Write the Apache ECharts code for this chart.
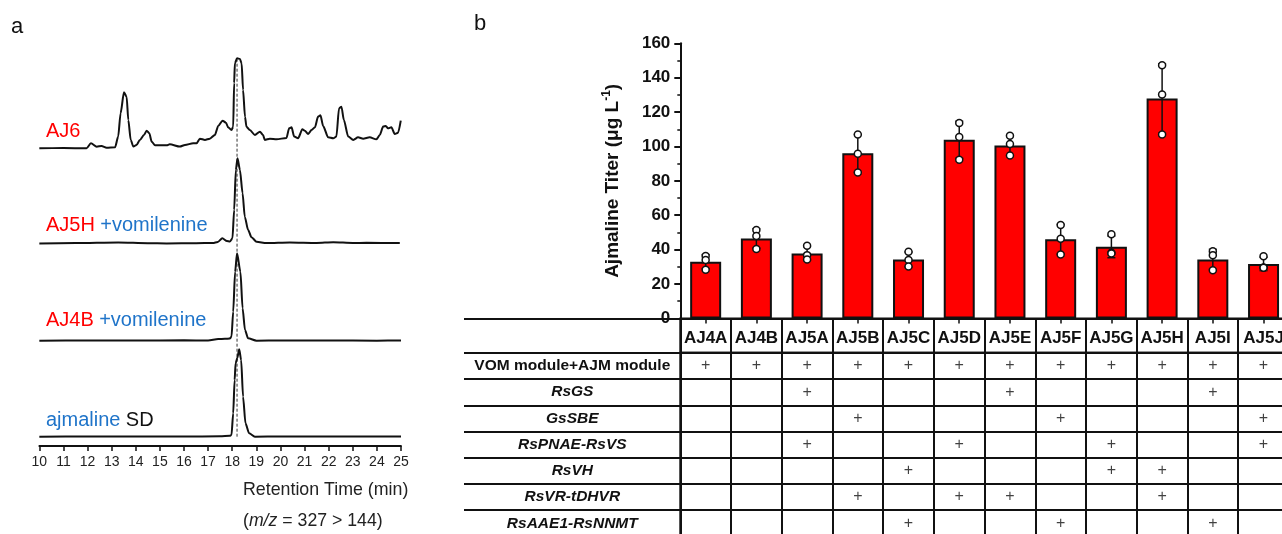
<!DOCTYPE html>
<html>
<head>
<meta charset="utf-8">
<script src="https://cdn.jsdelivr.net/npm/echarts@6/dist/echarts.min.js"></script>
<style>html,body{margin:0;padding:0;background:#fff}#c{width:1282px;height:534px}</style>
</head>
<body>
<div id="c"></div>
<script>
// ---------- Panel a: chromatogram traces [retention time (min), relative intensity (%)] ----------
const traceAJ6 = [[10.00,0],[11.0,0.3],[11.96,0],[12.14,5.5],[12.38,1.8],[12.58,2.6],[12.79,0.7],[13.14,1.1],[13.27,13],[13.37,38.9],[13.51,62.2],[13.62,57.4],[13.69,31.5],[13.79,9.3],[13.90,1.9],[14.03,3.7],[14.17,9.2],[14.34,14.8],[14.45,19.6],[14.56,16.7],[14.66,7.4],[14.80,3.3],[15.28,3.3],[15.41,4.4],[15.83,1.9],[16.04,3.7],[16.38,5.6],[16.52,5.5],[16.66,10.7],[16.87,9.3],[17.07,10.7],[17.28,14.8],[17.42,24.8],[17.60,30.7],[17.74,28.5],[17.83,23.3],[17.97,20.4],[18.04,24],[18.08,72.6],[18.11,94.4],[18.20,100],[18.32,99.2],[18.39,94.4],[18.45,64.8],[18.53,35.1],[18.59,24],[18.73,20.3],[18.94,14.8],[19.15,18.5],[19.28,14.8],[19.35,9.3],[19.56,10.7],[19.84,10],[20.25,11.5],[20.36,22.2],[20.46,23.3],[20.57,13],[20.73,11.1],[20.91,21.1],[21.01,19.6],[21.15,15.9],[21.29,20.4],[21.43,23.3],[21.56,35.2],[21.66,36.7],[21.77,24.8],[21.98,12.2],[22.19,11.1],[22.32,13],[22.43,44.4],[22.53,46.3],[22.63,31.5],[22.81,13],[23.02,9.3],[23.22,12.2],[23.43,10.7],[23.70,12.2],[23.98,10],[24.12,14.8],[24.26,24.1],[24.37,24.8],[24.46,22.2],[24.60,23.3],[24.74,15.9],[24.88,17.4],[24.99,30.7]];
const traceAJ5H = [[10,0],[11.5,0.5],[13.27,1.2],[14.5,0.3],[15.28,0],[16.5,0.4],[17.2,0.5],[17.40,1.8],[17.59,6.1],[17.78,2.9],[17.90,2.3],[18.01,6.1],[18.08,39.3],[18.15,86.3],[18.22,100],[18.32,86.3],[18.43,58.9],[18.52,31.5],[18.66,15.8],[18.80,7.3],[19.01,2.1],[19.42,0.5],[20.39,1.2],[21.5,0.6],[22.19,1.5],[23.0,0.6],[23.57,0.8],[24.95,0.5]];
const traceAJ4B = [[10,0],[12,0.3],[14,0.2],[16,0.4],[17.0,0.2],[17.42,1.9],[17.7,2.1],[17.90,2.5],[17.97,4.6],[18.04,33.2],[18.12,78.9],[18.20,100],[18.34,78.9],[18.43,37.1],[18.53,12.2],[18.66,2.7],[19.01,0],[20,0.3],[22,0.2],[24,0],[25,0.3]];
const traceSD = [[10,0],[12,0.2],[14,0.3],[16,0.2],[17.5,0.5],[17.9,1],[17.97,1.9],[18.04,26.8],[18.10,64.9],[18.14,84],[18.21,90],[18.29,100],[18.37,87.8],[18.45,45.8],[18.55,15.3],[18.70,3.9],[18.94,0],[20,0.2],[22,0.3],[24,0.2],[25,0.2]];
const refLine = [[18.2,0],[18.2,1]];
const timeTicks = {min:10, max:25, interval:1};

// ---------- Panel b: titers ----------
const strains = ['AJ4A','AJ4B','AJ5A','AJ5B','AJ5C','AJ5D','AJ5E','AJ5F','AJ5G','AJ5H','AJ5I','AJ5J'];
const titerMean = [33.0, 46.5, 37.8, 96.0, 34.3, 103.9, 100.6, 46.0, 41.6, 127.9, 34.3, 31.7];
const titerSD   = [4.1, 5.7, 4.0, 11.0, 4.3, 10.8, 5.8, 8.6, 6.3, 20.2, 5.9, 3.9];
const rep1 = [36.3, 51.4, 42.2, 106.9, 38.7, 113.7, 106.3, 54.3, 48.9, 147.2, 39.1, 36.2];
const rep2 = [34.0, 47.9, 36.8, 95.8, 33.9, 105.5, 101.4, 46.3, 38.2, 130.2, 36.8, 29.6];
const rep3 = [28.3, 40.3, 34.3, 84.9, 30.2, 92.3, 94.8, 37.2, 37.8, 106.9, 28.0, 29.4];
const titerTicks = {min:0, max:160, interval:20};

// ---------- Table rows ----------
const rowNames = ['VOM module+AJM module','RsGS','GsSBE','RsPNAE-RsVS','RsVH','RsVR-tDHVR','RsAAE1-RsNNMT'];
const rowVOM    = ['AJ4A','AJ4B','AJ5A','AJ5B','AJ5C','AJ5D','AJ5E','AJ5F','AJ5G','AJ5H','AJ5I','AJ5J'];
const rowRsGS   = ['AJ5A','AJ5E','AJ5I'];
const rowGsSBE  = ['AJ5B','AJ5F','AJ5J'];
const rowRsPNAE = ['AJ5A','AJ5D','AJ5G','AJ5J'];
const rowRsVH   = ['AJ5C','AJ5G','AJ5H'];
const rowRsVR   = ['AJ5B','AJ5D','AJ5E','AJ5H'];
const rowRsAAE1 = ['AJ5C','AJ5F','AJ5I'];
const rowMembers = [rowVOM,rowRsGS,rowGsSBE,rowRsPNAE,rowRsVH,rowRsVR,rowRsAAE1];

const FONT = "'Liberation Sans', Arial, Helvetica, sans-serif";
const INK = '#111';
const RED = '#ff0000';
const BLUE = '#1f74c9';

const plusData = [];
rowMembers.forEach((arr, r) => arr.forEach(s => plusData.push([s, rowNames[r]])));

const chart = echarts.init(document.getElementById('c'), null, {renderer:'canvas'});

const L = 39.33, W = 361.67;
const BL = 680.3, BW = 608.6;

function traceX(i, show) {
  return Object.assign({
    type:'value', gridIndex:i, show: show
  }, timeTicks);
}
function G(o) { return Object.assign({outerBoundsMode:'none', containLabel:false}, o); }

const option = {
  animation:false,
  textStyle:{fontFamily:FONT},
  grid:[
    G({left:L, width:W, top:58.3, height:90}),
    G({left:L, width:W, top:158.3, height:85.2}),
    G({left:L, width:W, top:253.3, height:87.4}),
    G({left:L, width:W, top:349.3, height:87.4}),
    G({left:L, width:W, top:60, height:376.7}),
    G({left:BL, width:BW, top:43.3, height:275.1}),
    G({left:BL, width:BW, top:318.4, height:34.4, show:true, borderColor:INK, borderWidth:2}),
    G({left:BL, width:BW, top:352.8, height:183.6, show:true, borderColor:INK, borderWidth:2})
  ],
  xAxis:[
    traceX(0,false), traceX(1,false), traceX(2,false),
    Object.assign(traceX(3,true), {
      offset:9.3,
      axisLine:{show:true, onZero:false, lineStyle:{color:INK, width:1.8}},
      axisTick:{show:true, length:5, lineStyle:{color:INK, width:1.5}},
      axisLabel:{color:'#222', fontSize:14, margin:9},
      splitLine:{show:false}
    }),
    traceX(4,false),
    {type:'category', gridIndex:5, data:strains,
      axisLine:{show:true, lineStyle:{color:INK, width:2}},
      axisTick:{show:true, alignWithLabel:true, length:5, interval:0, lineStyle:{color:INK, width:1.5}},
      axisLabel:{show:true, interval:0, color:INK, fontSize:17, fontWeight:'bold', margin:19.5, verticalAlign:'middle'},
      splitLine:{show:false}},
    {type:'category', gridIndex:6, data:strains, axisLine:{show:false}, axisTick:{show:false}, axisLabel:{show:false},
      splitLine:{show:true, interval:0, lineStyle:{color:INK, width:2}}},
    {type:'category', gridIndex:7, data:strains, axisLine:{show:false}, axisTick:{show:false}, axisLabel:{show:false},
      splitLine:{show:true, interval:0, lineStyle:{color:INK, width:2}}}
  ],
  yAxis:[
    {type:'value', gridIndex:0, min:0, max:100, show:false},
    {type:'value', gridIndex:1, min:0, max:100, show:false},
    {type:'value', gridIndex:2, min:0, max:100, show:false},
    {type:'value', gridIndex:3, min:0, max:100, show:false},
    {type:'value', gridIndex:4, min:0, max:1, show:false},
    Object.assign({type:'value', gridIndex:5,
      name:'{t|Ajmaline Titer (μg L}{s|-1}{t|)}', nameLocation:'middle', nameGap:56,
      nameTextStyle:{rich:{
        t:{fontSize:19, fontWeight:'bold', color:INK, fontFamily:FONT, lineHeight:24},
        s:{fontSize:12, fontWeight:'bold', color:INK, fontFamily:FONT, verticalAlign:'top', lineHeight:24}
      }},
      axisLine:{show:true, lineStyle:{color:INK, width:2}},
      axisTick:{show:true, length:6, lineStyle:{color:INK, width:2}},
      minorTick:{show:true, splitNumber:2, length:3, lineStyle:{color:INK, width:1.5}},
      axisLabel:{color:INK, fontSize:17, fontWeight:'bold', margin:10},
      splitLine:{show:false}}, titerTicks),
    {type:'category', gridIndex:6, data:[''], axisLine:{show:false},
      axisTick:{show:true, length:216.3, interval:0, lineStyle:{color:INK, width:2}},
      axisLabel:{show:false}, splitLine:{show:false}},
    {type:'category', gridIndex:6, data:[''], offset:216.3, axisLine:{show:true, lineStyle:{color:INK, width:2}},
      axisTick:{show:false}, axisLabel:{show:false}, splitLine:{show:false}},
    {type:'category', gridIndex:7, data:rowNames, inverse:true, axisLine:{show:false},
      axisTick:{show:true, length:216.3, interval:0, lineStyle:{color:INK, width:2}},
      axisLabel:{show:true, interval:0, align:'center', margin:108,
        formatter:(v,i)=> i===0 ? '{n|'+v+'}' : '{i|'+v+'}',
        rich:{
          n:{fontSize:15.5, fontWeight:'bold', color:INK, fontFamily:FONT},
          i:{fontSize:15.5, fontWeight:'bold', fontStyle:'italic', color:INK, fontFamily:FONT}
        }},
      splitLine:{show:true, interval:0, lineStyle:{color:INK, width:2}}},
    {type:'category', gridIndex:7, data:rowNames, inverse:true, offset:216.3,
      axisLine:{show:true, lineStyle:{color:INK, width:2}}, axisTick:{show:false}, axisLabel:{show:false}, splitLine:{show:false}}
  ],
  series:[
    {type:'line', xAxisIndex:0, yAxisIndex:0, data:traceAJ6, showSymbol:false, clip:false, smooth:0.25, smoothMonotone:'x', lineStyle:{color:INK, width:2}},
    {type:'line', xAxisIndex:1, yAxisIndex:1, data:traceAJ5H, showSymbol:false, clip:false, smooth:0.25, smoothMonotone:'x', lineStyle:{color:INK, width:2}},
    {type:'line', xAxisIndex:2, yAxisIndex:2, data:traceAJ4B, showSymbol:false, clip:false, smooth:0.25, smoothMonotone:'x', lineStyle:{color:INK, width:2}},
    {type:'line', xAxisIndex:3, yAxisIndex:3, data:traceSD, showSymbol:false, clip:false, smooth:0.25, smoothMonotone:'x', lineStyle:{color:INK, width:2}},
    {type:'line', xAxisIndex:4, yAxisIndex:4, data:refLine, showSymbol:false, clip:false, z:1, lineStyle:{color:'#333', width:1, type:[3,2]}},
    {type:'bar', xAxisIndex:5, yAxisIndex:5, data:titerMean, barWidth:31, z:2,
      itemStyle:{color:RED, borderColor:INK, borderWidth:2}},
    {type:'custom', xAxisIndex:5, yAxisIndex:5, z:3,
      data: strains.map((s,i)=>[i, titerMean[i], titerSD[i]]),
      encode:{x:0, y:1},
      renderItem:(params, api)=>{
        const x = api.value(0), m = api.value(1), s = api.value(2);
        const t = api.coord([x, m+s]), b = api.coord([x, m-s]);
        const w = 4;
        const st = {stroke:INK, lineWidth:1.5};
        return {type:'group', children:[
          {type:'line', shape:{x1:t[0], y1:t[1], x2:b[0], y2:b[1]}, style:st},
          {type:'line', shape:{x1:t[0]-w, y1:t[1], x2:t[0]+w, y2:t[1]}, style:st},
          {type:'line', shape:{x1:b[0]-w, y1:b[1], x2:b[0]+w, y2:b[1]}, style:st}
        ]};
      }},
    {type:'scatter', xAxisIndex:5, yAxisIndex:5, z:4, symbolSize:7,
      data: strains.flatMap((s,i)=>[[s, rep1[i]],[s, rep2[i]],[s, rep3[i]]]),
      itemStyle:{color:'#fff', borderColor:INK, borderWidth:1.5, opacity:1}},
    {type:'scatter', xAxisIndex:7, yAxisIndex:8, z:4, symbolSize:1, data:plusData,
      itemStyle:{color:'rgba(0,0,0,0)'},
      label:{show:true, position:'inside', formatter:'+', color:INK, fontSize:16, fontFamily:FONT}}
  ],
  graphic:[
    {type:'text', left:11, top:16, style:{text:'a', fontSize:22, fill:INK, fontFamily:FONT}},
    {type:'text', left:474, top:13, style:{text:'b', fontSize:22, fill:INK, fontFamily:FONT}},
    {type:'text', x:46, y:131, style:{text:'AJ6', fontSize:20, fill:RED, fontFamily:FONT, verticalAlign:'middle'}},
    {type:'text', x:46, y:225, style:{text:'{r|AJ5H} {b|+vomilenine}', verticalAlign:'middle', fontFamily:FONT,
      rich:{r:{fontSize:20, fill:RED, color:RED, fontFamily:FONT}, b:{fontSize:20, fill:BLUE, color:BLUE, fontFamily:FONT, padding:[0,0,0,2]}}}},
    {type:'text', x:46, y:320, style:{text:'{r|AJ4B} {b|+vomilenine}', verticalAlign:'middle', fontFamily:FONT,
      rich:{r:{fontSize:20, fill:RED, color:RED, fontFamily:FONT}, b:{fontSize:20, fill:BLUE, color:BLUE, fontFamily:FONT, padding:[0,0,0,2]}}}},
    {type:'text', x:46, y:420, style:{text:'{b|ajmaline} {k|SD}', verticalAlign:'middle', fontFamily:FONT,
      rich:{b:{fontSize:20, fill:BLUE, color:BLUE, fontFamily:FONT}, k:{fontSize:20, fill:INK, color:INK, fontFamily:FONT, padding:[0,0,0,2]}}}},
    {type:'text', x:243, y:490, style:{text:'Retention Time (min)', fontSize:17.8, fill:'#222', fontFamily:FONT, verticalAlign:'middle'}},
    {type:'text', x:243, y:521, style:{text:'({i|m/z} = 327 > 144)', fontSize:17.7, fill:'#222', fontFamily:FONT, verticalAlign:'middle',
      rich:{i:{fontSize:17.7, fontStyle:'italic', fill:'#222', color:'#222', fontFamily:FONT}}}}
  ]
};
chart.setOption(option);
</script>
</body>
</html>
